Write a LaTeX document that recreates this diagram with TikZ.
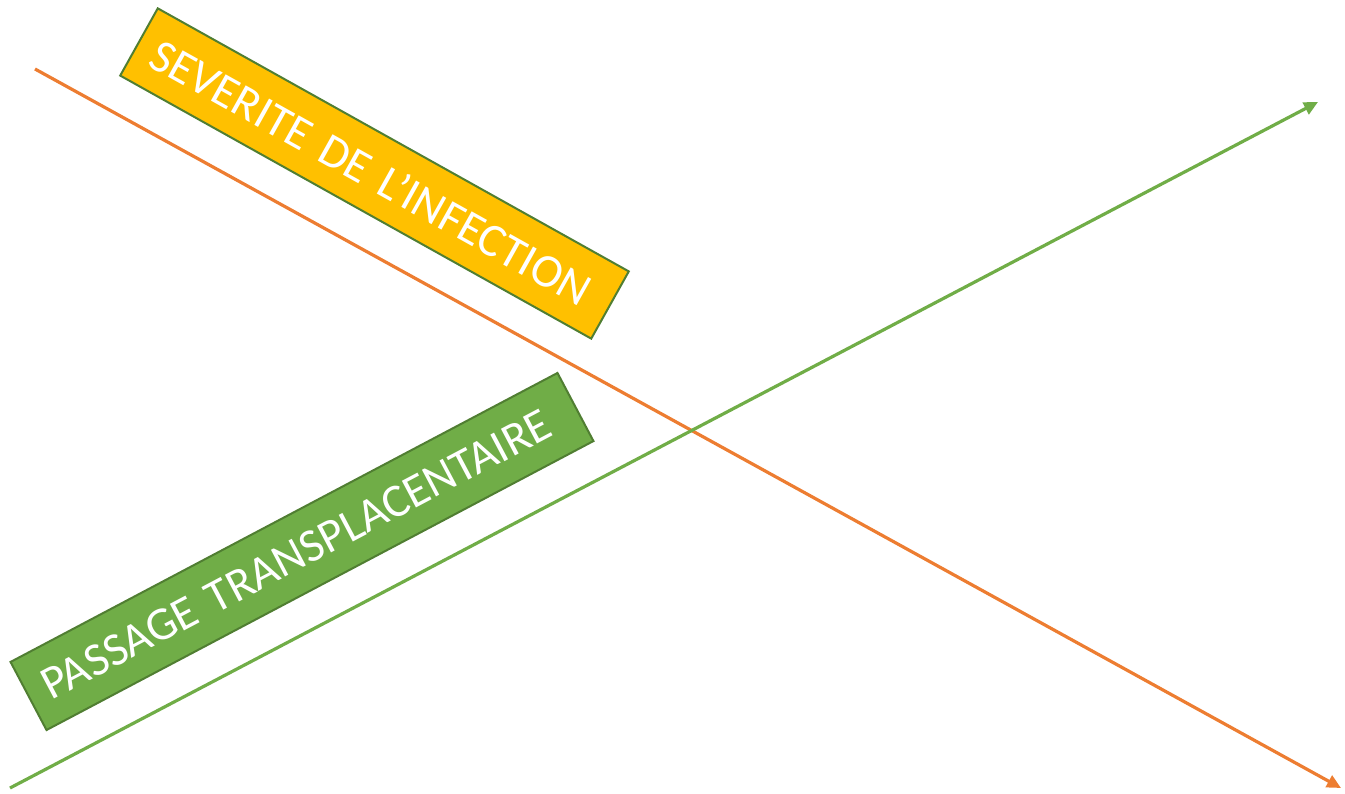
\documentclass[tikz,border=0pt]{standalone}
\usepackage{fontspec}
\setmainfont{Carlito}
\usetikzlibrary{arrows.meta}
\definecolor{orangeaxe}{HTML}{ED7D31}
\definecolor{vertaxe}{HTML}{70AD47}
\definecolor{jaunebox}{HTML}{FFC000}
\definecolor{vertfonce}{HTML}{507E32}

\begin{document}
\begin{tikzpicture}[x=1pt,y=-1pt,
  axe/.style={line width=3.2pt,-{Triangle[length=14pt,width=13pt]}},
  etiquette/.style={draw=vertfonce,line width=2pt,minimum height=77pt,
    inner xsep=18pt,align=left,text=white,font=\fontsize{47}{54}\selectfont}]
\useasboundingbox (0,0) rectangle (1345,794);
% axes
\coordinate (sevdebut) at (35,69);
\coordinate (sevfin) at (1341,788);
\coordinate (pasdebut) at (10,788);
\coordinate (pasfin) at (1318,102);
\draw[axe,orangeaxe] (sevdebut) -- (sevfin);
\draw[axe,vertaxe] (pasdebut) -- (pasfin);
% etiquettes
\node[etiquette,fill=jaunebox,rotate=-29.18,text width=503.5pt] (severite) at (374.5,173.5) {SEVERITE DE L’INFECTION};
\node[etiquette,fill=vertaxe,rotate=27.85,text width=582.6pt] (passage) at (302,551.5) {PASSAGE TRANSPLACENTAIRE};
\end{tikzpicture}
\end{document}
